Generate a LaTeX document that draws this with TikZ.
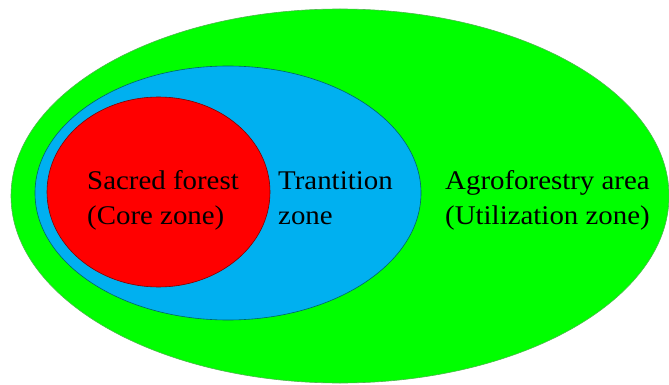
\documentclass[tikz,border=0pt]{standalone}
\usepackage{fontspec}
\setmainfont{Liberation Serif}[FakeStretch=1.07]
\definecolor{zgreen}{HTML}{00FF00}
\definecolor{zblue}{HTML}{00B0F0}
\definecolor{zred}{HTML}{FF0000}
\begin{document}
\begin{tikzpicture}[x=1pt,y=-1pt,
  zone/.style={line width=0.6pt},
  lbl/.style={anchor=base west,inner sep=0pt,font=\fontsize{27}{36}\selectfont,text=black}]
\useasboundingbox (0,0) rectangle (669,385);
\fill[white] (0,0) rectangle (669,385);
\draw[zone,fill=zgreen,draw=green!60!black!70] (340,196) ellipse [x radius=329,y radius=187];
\draw[zone,fill=zblue,draw=teal!80!black] (228,193) ellipse [x radius=193,y radius=127];
\draw[zone,fill=zred,draw=red!50!black] (158.5,192) ellipse [x radius=111.5,y radius=95];
\node[lbl] (core1) at (87,189) {Sacred forest};
\node[lbl] (core2) at (87,224) {(Core zone)};
\node[lbl] (tran1) at (278,189) {Trantition};
\node[lbl] (tran2) at (278,224) {zone};
\node[lbl] (agro1) at (445,189) {Agroforestry area};
\node[lbl] (agro2) at (445,224) {(Utilization zone)};
\end{tikzpicture}
\end{document}
